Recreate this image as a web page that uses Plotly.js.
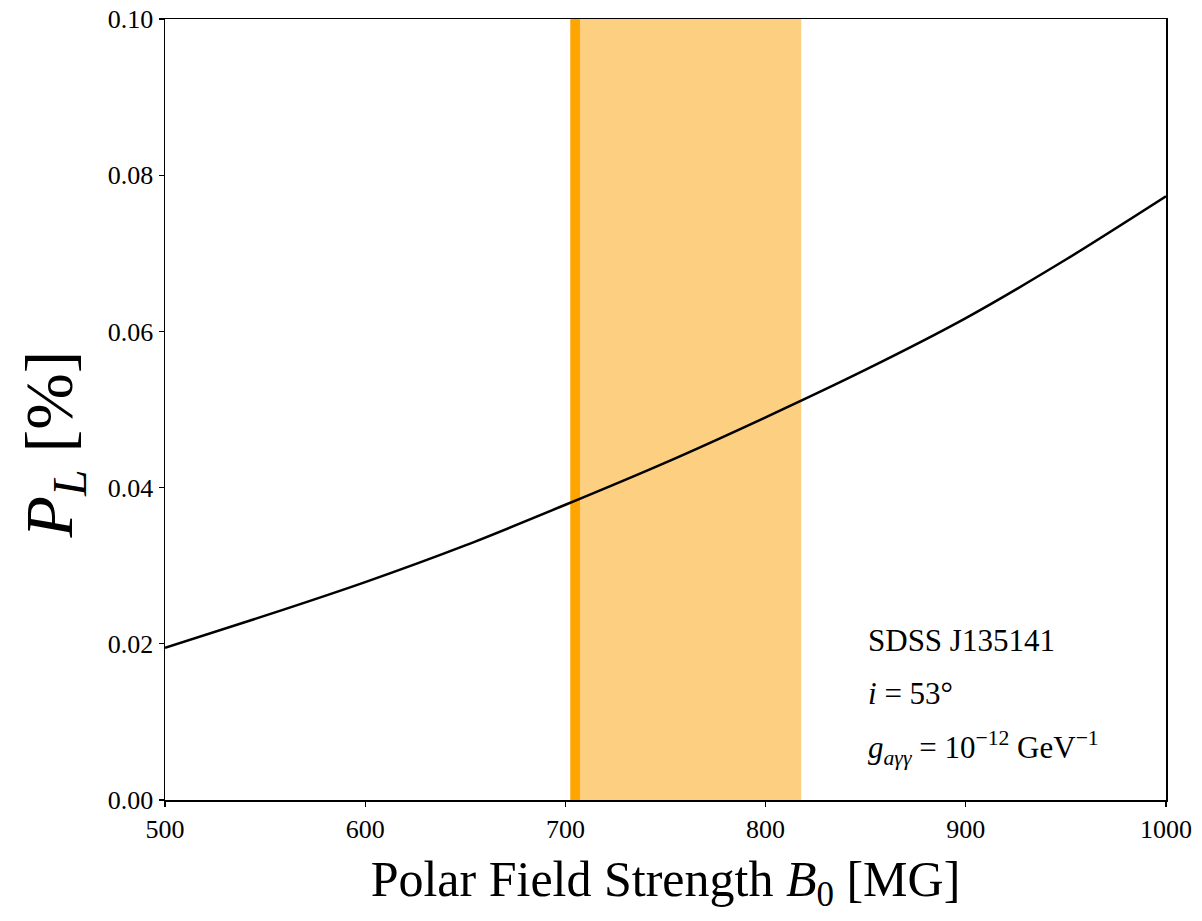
<!DOCTYPE html>
<html>
<head>
<meta charset="utf-8">
<script src="https://cdn.plot.ly/plotly-3.0.1.min.js"></script>
<style>html,body{margin:0;padding:0;background:#fff;}</style>
</head>
<body>
<div id="chart" style="width:1202px;height:921px;"></div>
<script>
// Data
const fieldStrength = [500, 550, 600, 650, 700, 750, 800, 850, 900, 950, 1000];
const polarization = [0.0195, 0.0236, 0.0279, 0.0326, 0.0378, 0.0432, 0.0490, 0.0551, 0.0617, 0.0692, 0.0773];
const bandRange = [702.5, 817.8];
const markerRange = [702.5, 707.3];
const xTicks = [500, 600, 700, 800, 900, 1000];
const yTicks = [0, 0.02, 0.04, 0.06, 0.08, 0.1];
const infoLines = [
  "SDSS J135141",
  "<i>i</i> = 53°",
  "<i>g</i><sub><i>aγγ</i></sub> = 10<sup>−12</sup> GeV<sup>−1</sup>"
];
const infoY = [0.0204, 0.0136, 0.0066];

const font = "Liberation Serif, DejaVu Serif, serif";

const trace = {
  x: fieldStrength,
  y: polarization,
  type: 'scatter',
  mode: 'lines',
  line: {color: '#000', width: 2.5, shape: 'spline', smoothing: 0.8},
  hoverinfo: 'skip'
};

const layout = {
  width: 1202, height: 921,
  margin: {l: 165, r: 36, t: 19, b: 121},
  paper_bgcolor: '#fff', plot_bgcolor: '#fff',
  showlegend: false,
  font: {family: font, color: '#000'},
  xaxis: {
    range: [500, 1000], tickvals: xTicks, ticktext: xTicks.map(String),
    ticks: 'outside', ticklen: 5, tickwidth: 1.2, tickcolor: '#000',
    showline: true, linecolor: '#000', linewidth: 1.5, mirror: true,
    showgrid: false, zeroline: false,
    tickfont: {family: font, size: 26, color: '#000'},
    title: {text: 'Polar Field Strength <i>B</i><sub>0</sub> [MG]', font: {family: font, size: 50, color: '#000'}, standoff: 18}
  },
  yaxis: {
    range: [0, 0.1], tickvals: yTicks, ticktext: yTicks.map(v => v.toFixed(2)),
    ticks: 'outside', ticklen: 5, tickwidth: 1.2, tickcolor: '#000',
    showline: true, linecolor: '#000', linewidth: 1.5, mirror: true,
    showgrid: false, zeroline: false,
    tickfont: {family: font, size: 26, color: '#000'}
  },
  shapes: [
    {type: 'rect', xref: 'x', yref: 'paper', x0: bandRange[0], x1: bandRange[1], y0: 0, y1: 1,
     fillcolor: 'rgba(253,207,128,1)', line: {width: 0}, layer: 'below'},
    {type: 'rect', xref: 'x', yref: 'paper', x0: markerRange[0], x1: markerRange[1], y0: 0, y1: 1,
     fillcolor: '#FFA500', line: {width: 0}, layer: 'below'}
  ],
  annotations: [
    {xref: 'paper', yref: 'paper', x: 0, y: 0.5, xshift: -112, yshift: -35,
     xanchor: 'center', yanchor: 'middle', textangle: -90, showarrow: false,
     text: '<i>P</i><sub><i>L</i></sub> [%]', font: {family: font, size: 68, color: '#000'}}
  ].concat(infoLines.map((t, i) => ({
    xref: 'x', yref: 'y', x: 850, y: infoY[i], xanchor: 'left', yanchor: 'middle',
    showarrow: false, text: t, font: {family: font, size: 31, color: '#000'}
  })))
};

Plotly.newPlot('chart', [trace], layout, {displayModeBar: false, staticPlot: true});
</script>
</body>
</html>
